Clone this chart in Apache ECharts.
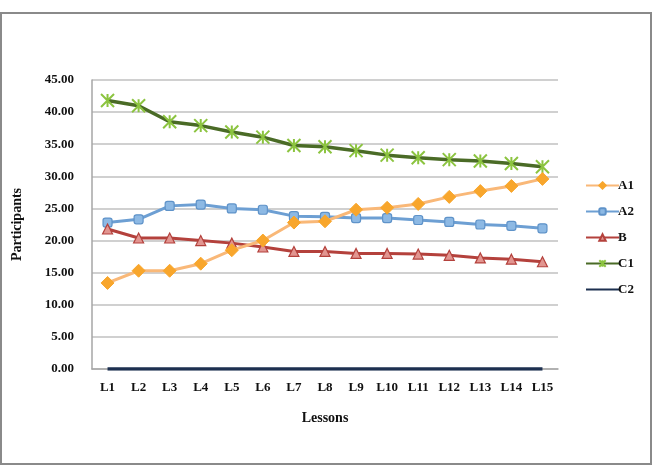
<!DOCTYPE html>
<html>
<head>
<meta charset="utf-8">
<script src="https://cdn.jsdelivr.net/npm/echarts@6/dist/echarts.min.js"></script>
<style>
  html, body { margin: 0; padding: 0; background: #fff; }
  #chart { width: 653px; height: 468px; }
</style>
</head>
<body>
<div id="chart"></div>
<script>
const lessons = ["L1", "L2", "L3", "L4", "L5", "L6", "L7", "L8", "L9", "L10", "L11", "L12", "L13", "L14", "L15"];
const a1 = [13.4, 15.3, 15.3, 16.4, 18.5, 20.0, 22.8, 23.0, 24.8, 25.1, 25.7, 26.8, 27.7, 28.5, 29.6];
const a2 = [22.8, 23.3, 25.4, 25.6, 25.0, 24.8, 23.8, 23.7, 23.5, 23.5, 23.2, 22.9, 22.5, 22.3, 21.9];
const b = [21.8, 20.4, 20.4, 20.0, 19.6, 19.0, 18.3, 18.3, 18.0, 18.0, 17.9, 17.7, 17.3, 17.1, 16.7];
const c1 = [41.8, 41.0, 38.5, 37.9, 36.9, 36.1, 34.8, 34.6, 34.0, 33.3, 32.9, 32.6, 32.4, 32.0, 31.5];
const c2 = [0, 0, 0, 0, 0, 0, 0, 0, 0, 0, 0, 0, 0, 0, 0];

const font = "Liberation Serif";
const star = "path://M0,0L10,10M10,0L0,10M5,0L5,10";

const chart = echarts.init(document.getElementById("chart"));
chart.setOption({
  animation: false,
  textStyle: { fontFamily: font },
  graphic: [
    {
      type: "rect",
      shape: { x: 1, y: 13, width: 650, height: 451 },
      style: { fill: "none", stroke: "#8a8a8a", lineWidth: 2 },
      silent: true,
    },
  ],
  grid: { left: 92, right: 95, top: 80, bottom: 99 },
  legend: {
    orient: "vertical",
    left: 580,
    top: 174,
    itemWidth: 33,
    itemHeight: 8,
    itemGap: 13,
    textStyle: { fontFamily: font, fontSize: 13, fontWeight: "bold", color: "#111", padding: [0, 0, 0, -6] },
    data: ["A1", "A2", "B", "C1", { name: "C2", itemStyle: { opacity: 0 } }],
  },
  xAxis: {
    type: "category",
    data: lessons,
    boundaryGap: true,
    name: "Lessons",
    nameLocation: "middle",
    nameGap: 42,
    nameTextStyle: { fontFamily: font, fontSize: 14, fontWeight: "bold", color: "#111" },
    axisLine: { lineStyle: { color: "#a6a6a6", width: 1.5 } },
    axisTick: { show: false },
    axisLabel: { fontFamily: font, fontSize: 13, fontWeight: "bold", color: "#111", margin: 12 },
  },
  yAxis: {
    type: "value",
    min: 0,
    max: 45,
    interval: 5,
    name: "Participants",
    nameLocation: "middle",
    nameGap: 68,
    nameTextStyle: { fontFamily: font, fontSize: 14, fontWeight: "bold", color: "#111" },
    axisLine: { show: true, lineStyle: { color: "#a6a6a6", width: 1.5 } },
    axisTick: { show: false },
    axisLabel: {
      fontFamily: font,
      fontSize: 13,
      fontWeight: "bold",
      color: "#111",
      margin: 18,
      formatter: (v) => v.toFixed(2),
    },
    splitLine: { lineStyle: { color: "#c0c0c0", width: 1.5 } },
  },
  series: [
    {
      name: "A1",
      type: "line",
      data: a1,
      symbol: "diamond",
      symbolSize: 13,
      lineStyle: { color: "#f9b878", width: 3 },
      itemStyle: { color: "#f8a62c", borderColor: "#f8a62c", borderWidth: 1 },
      z: 4,
    },
    {
      name: "A2",
      type: "line",
      data: a2,
      symbol: "roundRect",
      symbolSize: 9,
      lineStyle: { color: "#6d9fd3", width: 3 },
      itemStyle: { color: "#8db9e4", borderColor: "#5f93c9", borderWidth: 1.2 },
      z: 3,
    },
    {
      name: "B",
      type: "line",
      data: b,
      symbol: "triangle",
      symbolSize: 10,
      lineStyle: { color: "#b4413c", width: 3 },
      itemStyle: { color: "#e29590", borderColor: "#b4413c", borderWidth: 1.2 },
      z: 3,
    },
    {
      name: "C1",
      type: "line",
      data: c1,
      symbol: star,
      symbolSize: 13,
      lineStyle: { color: "#4a6b26", width: 3.5 },
      itemStyle: { color: "#8cc440", borderColor: "#8cc440", borderWidth: 2 },
      z: 3,
    },
    {
      name: "C2",
      type: "line",
      data: c2,
      symbol: "none",
      lineStyle: { color: "#1d3050", width: 3.5 },
      itemStyle: { color: "#1d3050" },
      z: 5,
    },
  ],
});
</script>
</body>
</html>
